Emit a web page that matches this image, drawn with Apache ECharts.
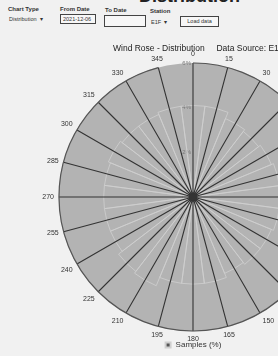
<!DOCTYPE html>
<html>
<head>
<meta charset="utf-8" />
<title>Wind Rose</title>
<script src="https://cdn.jsdelivr.net/npm/echarts@6/dist/echarts.min.js"></script>
<style>
body { margin:0; background:#f1f1f1; overflow:hidden; font-family:"Liberation Sans", Arial, sans-serif; color:#333; }
.lbl { position:absolute; font-size:6px; font-weight:bold; color:#333; white-space:nowrap; }
.box { position:absolute; border:1px solid #444; background:#f7f7f7; font-size:5.5px; line-height:8px; padding:0 2px; white-space:nowrap; box-sizing:border-box; }
.sel { position:absolute; font-size:5.5px; white-space:nowrap; color:#333; }
</style>
</head>
<body>

<div style="position:absolute; right:38px; top:-13px; font-size:18px; line-height:18px; font-weight:bold; color:#222; white-space:nowrap;">Distribution</div>

<div class="lbl" style="left:8px; top:6px;">Chart Type</div>
<div class="sel" style="left:9px; top:16px;">Distribution &nbsp;▾</div>
<div class="lbl" style="left:60px; top:6px;">From Date</div>
<div class="box" style="left:60px; top:14px; width:36px; height:10px;">2021-12-06</div>
<div class="lbl" style="left:105px; top:7px;">To Date</div>
<div class="box" style="left:104px; top:15px; width:42px; height:12px;"></div>
<div class="lbl" style="left:150px; top:8px;">Station</div>
<div class="sel" style="left:151px; top:19px;">E1F &nbsp;▾</div>
<div class="box" style="left:180px; top:16px; width:39px; height:11px; text-align:center; line-height:9px;">Load data</div>

<div id="rose" style="position:absolute; left:0; top:0; width:386px; height:356px;"></div>

<script type="text/javascript">
// directions (degrees) and share of samples (%)
var directions = ['0','15','30','45','60','75','90','105','120','135','150','165',
                  '180','195','210','225','240','255','270','285','300','315','330','345'];
var samples = [4.1, 4.1, 3.8, 3.7, 3.8, 3.9, 4.0, 3.9, 3.8, 3.8, 3.7, 3.9,
               3.9, 3.9, 4.3, 4.2, 4.0, 4.0, 4.0, 4.0, 4.1, 4.0, 4.0, 4.1];
var radiusMax = 6;
var radiusStep = 2;

var chart = echarts.init(document.getElementById('rose'));
chart.setOption({
    animation: false,
    backgroundColor: 'transparent',
    title: {
        text: 'Wind Rose - Distribution     Data Source: E15',
        left: 108,
        top: 39,
        textStyle: { fontSize: 8.5, fontWeight: 'normal', color: '#222', fontFamily: 'Liberation Sans' }
    },
    legend: {
        data: ['Samples (%)'],
        left: 'center',
        bottom: 2,
        itemWidth: 5,
        itemHeight: 5,
        icon: 'rect',
        itemStyle: { color: '#555' },
        textStyle: { fontSize: 8, color: '#333', fontFamily: 'Liberation Sans' }
    },
    polar: {
        center: [193, 197],
        radius: 134
    },
    angleAxis: {
        type: 'category',
        data: directions,
        boundaryGap: false,
        startAngle: 90,
        clockwise: true,
        z: 5,
        axisLine: { lineStyle: { color: '#555', width: 1.2 } },
        axisTick: { show: false },
        axisLabel: { fontSize: 7, color: '#333', margin: 5, fontFamily: 'Liberation Sans' },
        splitLine: { show: true, lineStyle: { color: '#333', width: 1.1 } }
    },
    radiusAxis: {
        min: 0,
        max: radiusMax,
        interval: radiusStep,
        z: 1,
        axisLine: { show: false },
        axisTick: { show: false },
        axisLabel: { fontSize: 6, color: '#777', margin: 2, formatter: '{value}%' },
        splitLine: { show: true, lineStyle: { color: '#a4a4a4', width: 0.6 } },
        splitArea: { show: true, areaStyle: { color: ['#b3b3b3'] } }
    },
    series: [{
        name: 'Samples (%)',
        type: 'bar',
        coordinateSystem: 'polar',
        data: samples,
        barCategoryGap: '0%',
        z: 3,
        itemStyle: { color: 'rgba(0,0,0,0)', borderColor: '#cfcfcf', borderWidth: 0.8 }
    }]
});
</script>
</body>
</html>
